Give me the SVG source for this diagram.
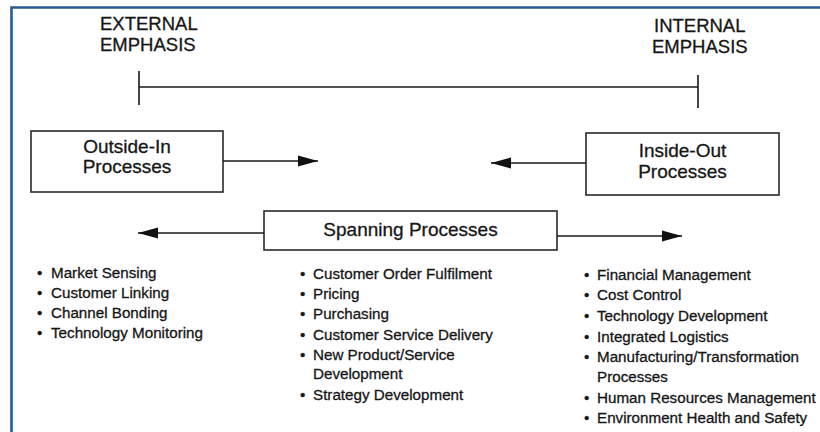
<svg xmlns="http://www.w3.org/2000/svg" width="820" height="432" viewBox="0 0 820 432">
<style>
.t{font-family:"Liberation Sans",Arial,sans-serif;fill:#161616;stroke:#161616;stroke-width:0.3}
.h{font-size:18.5px}
.b{font-size:19px;text-anchor:middle}
.l{font-size:15.2px}
.box{fill:#fff;stroke:#2a2a2a;stroke-width:1.6}
.ln{stroke:#1a1a1a;stroke-width:1.6;fill:none}
</style>
<defs>
<marker id="ah" markerUnits="userSpaceOnUse" markerWidth="22" markerHeight="14" refX="20" refY="6" orient="auto">
<path d="M0,0.5 L20,6 L0,11.5 Z" fill="#111"/>
</marker>
</defs>
<rect x="0" y="0" width="820" height="432" fill="#fff"/>
<path d="M11.5,432 V7.5 H820" fill="none" stroke="#2b5a92" stroke-width="2.6"/>

<g id="scale">
<text class="t h" x="100" y="30">EXTERNAL</text>
<text class="t h" x="100" y="51">EMPHASIS</text>
<text class="t h" x="654" y="32">INTERNAL</text>
<text class="t h" x="652" y="53">EMPHASIS</text>
<path class="ln" d="M139,87 H698 M139,71 V105 M698,75 V108" stroke-width="2"/>
</g>

<g id="outside-in">
<rect class="box" x="31" y="131" width="192" height="61"/>
<text class="t b" x="127" y="153">Outside-In</text>
<text class="t b" x="127" y="173">Processes</text>
</g>

<g id="inside-out">
<rect class="box" x="586" y="133" width="193" height="62"/>
<text class="t b" x="682.5" y="157">Inside-Out</text>
<text class="t b" x="682.5" y="178">Processes</text>
</g>

<g id="spanning">
<rect class="box" x="264" y="211" width="293" height="39"/>
<text class="t b" x="410.5" y="236">Spanning Processes</text>
</g>

<g id="connectors">
<path class="ln" d="M223,161 H318" marker-end="url(#ah)"/>
<path class="ln" d="M586,163 H491" marker-end="url(#ah)"/>
<path class="ln" d="M264,233 H138" marker-end="url(#ah)"/>
<path class="ln" d="M557,236 H682" marker-end="url(#ah)"/>
</g>

<g id="list-outside" class="t l">
<text x="37" y="278">•</text><text x="51" y="278">Market Sensing</text>
<text x="37" y="298">•</text><text x="51" y="298">Customer Linking</text>
<text x="37" y="318">•</text><text x="51" y="318">Channel Bonding</text>
<text x="37" y="338">•</text><text x="51" y="338">Technology Monitoring</text>
</g>

<g id="list-spanning" class="t l">
<text x="300" y="279">•</text><text x="313" y="279">Customer Order Fulfilment</text>
<text x="300" y="299">•</text><text x="313" y="299">Pricing</text>
<text x="300" y="319">•</text><text x="313" y="319">Purchasing</text>
<text x="300" y="340">•</text><text x="313" y="340">Customer Service Delivery</text>
<text x="300" y="360">•</text><text x="313" y="360">New Product/Service</text>
<text x="313" y="379">Development</text>
<text x="300" y="400">•</text><text x="313" y="400">Strategy Development</text>
</g>

<g id="list-inside" class="t l">
<text x="584" y="280">•</text><text x="597" y="280">Financial Management</text>
<text x="584" y="300">•</text><text x="597" y="300">Cost Control</text>
<text x="584" y="321">•</text><text x="597" y="321">Technology Development</text>
<text x="584" y="342">•</text><text x="597" y="342">Integrated Logistics</text>
<text x="584" y="362">•</text><text x="597" y="362">Manufacturing/Transformation</text>
<text x="597" y="382">Processes</text>
<text x="584" y="403">•</text><text x="597" y="403">Human Resources Management</text>
<text x="584" y="423">•</text><text x="597" y="423">Environment Health and Safety</text>
</g>
</svg>
